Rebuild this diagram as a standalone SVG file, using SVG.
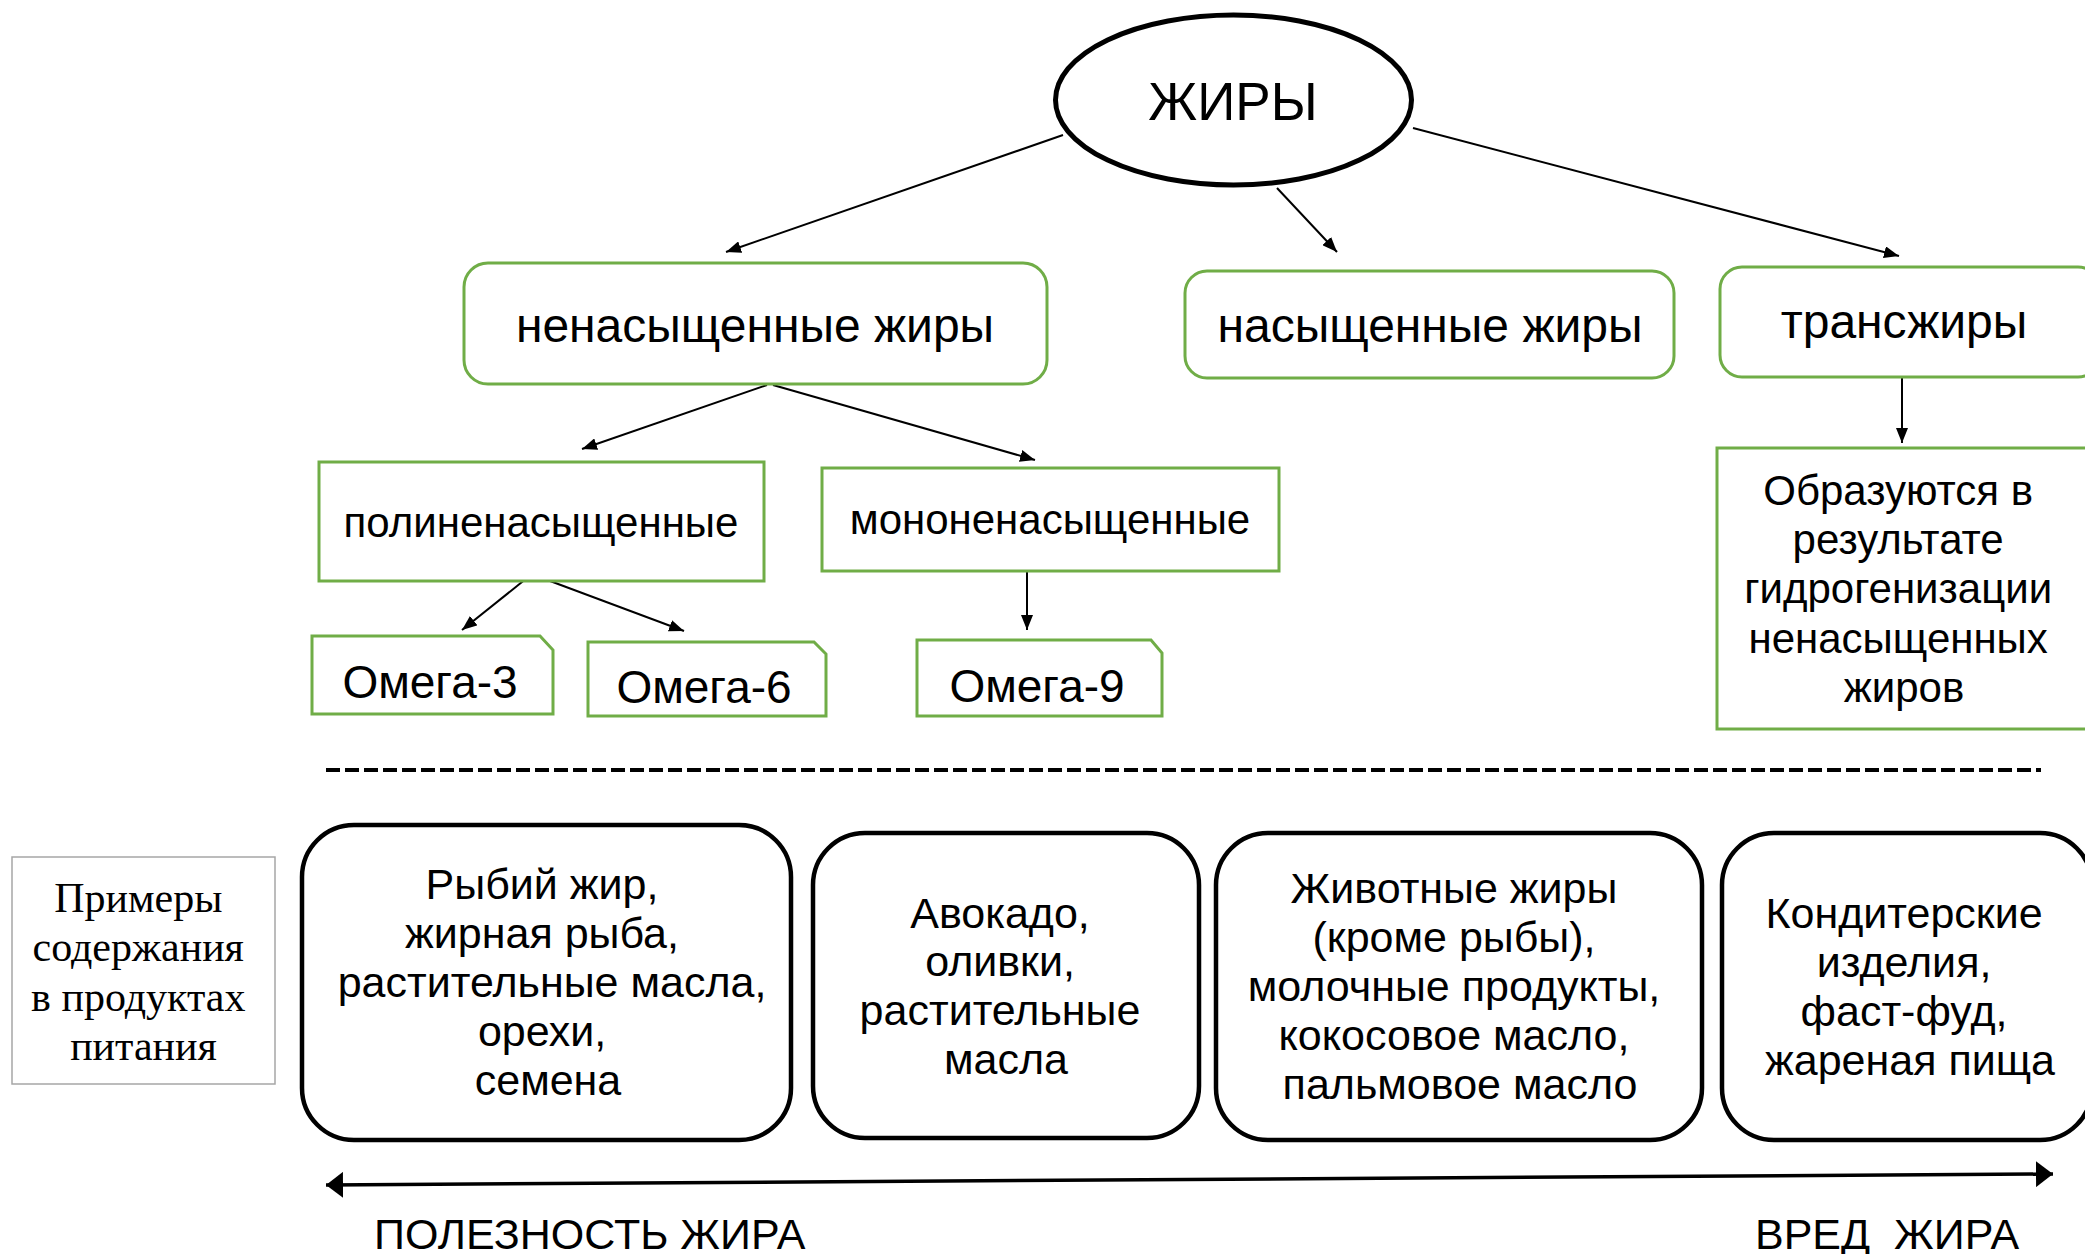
<svg xmlns="http://www.w3.org/2000/svg" width="2085" height="1254" viewBox="0 0 2085 1254">
<defs>
<style>
.t{font-family:"Liberation Sans",Arial,sans-serif;fill:#000;text-anchor:middle}
.g{fill:#fff;stroke:#70AD47;stroke-width:3}
.b{fill:#fff;stroke:#000;stroke-width:4.5}
.c{stroke:#000;stroke-width:2;fill:none}
.s{font-family:"Liberation Serif","Times New Roman",serif;fill:#000;text-anchor:middle}
</style>
<marker id="ah" markerUnits="userSpaceOnUse" markerWidth="16" markerHeight="12" refX="15" refY="6" orient="auto">
<path d="M0,0 L15,6 L0,12 z" fill="#000"/>
</marker>
<marker id="bh" markerUnits="userSpaceOnUse" markerWidth="18" markerHeight="26" refX="17" refY="13" orient="auto-start-reverse">
<path d="M0,0 L17,13 L0,26 z" fill="#000"/>
</marker>
</defs>
<rect width="2085" height="1254" fill="#fff"/>

<g id="connectors">
<line class="c" x1="1063" y1="135" x2="726" y2="252" marker-end="url(#ah)"/>
<line class="c" x1="1277" y1="188" x2="1337" y2="252" marker-end="url(#ah)"/>
<line class="c" x1="1413" y1="128" x2="1899" y2="256" marker-end="url(#ah)"/>
<line class="c" x1="767" y1="385" x2="582" y2="449" marker-end="url(#ah)"/>
<line class="c" x1="773" y1="385" x2="1035" y2="460" marker-end="url(#ah)"/>
<line class="c" x1="527" y1="578" x2="462" y2="630" marker-end="url(#ah)"/>
<line class="c" x1="542" y1="578" x2="684" y2="631" marker-end="url(#ah)"/>
<line class="c" x1="1027" y1="566" x2="1027" y2="630" marker-end="url(#ah)"/>
<line class="c" x1="1902" y1="377" x2="1902" y2="443" marker-end="url(#ah)"/>
<line x1="326" y1="770" x2="2041" y2="770" stroke="#000" stroke-width="4" stroke-dasharray="14 5"/>
<line x1="326" y1="1185" x2="2053" y2="1174" stroke="#000" stroke-width="3.5" marker-start="url(#bh)" marker-end="url(#bh)"/>
</g>

<g id="fats">
<ellipse cx="1233.5" cy="100" rx="178" ry="85" fill="#fff" stroke="#000" stroke-width="5"/>
<text class="t" x="1233" y="120" font-size="53">ЖИРЫ</text>
</g>

<g id="unsaturated">
<rect class="g" x="464" y="263" width="583" height="121" rx="24"/>
<text class="t" x="755" y="342" font-size="48">ненасыщенные жиры</text>
</g>

<g id="saturated">
<rect class="g" x="1185" y="271" width="489" height="107" rx="22"/>
<text class="t" x="1430" y="342" font-size="48">насыщенные жиры</text>
</g>

<g id="trans">
<rect class="g" x="1720" y="267" width="380" height="110" rx="22"/>
<text class="t" x="1904" y="338" font-size="48">трансжиры</text>
</g>

<g id="trans-note">
<rect class="g" x="1717" y="448" width="380" height="281"/>
<text class="t" font-size="42">
<tspan x="1904" y="505">Образуются в</tspan>
<tspan x="1904" y="554">результате</tspan>
<tspan x="1904" y="603">гидрогенизации</tspan>
<tspan x="1904" y="653">ненасыщенных</tspan>
<tspan x="1904" y="702">жиров</tspan>
</text>
</g>

<g id="poly">
<rect class="g" x="319" y="462" width="445" height="119"/>
<text class="t" x="541" y="537" font-size="42">полиненасыщенные</text>
</g>

<g id="mono">
<rect class="g" x="822" y="468" width="457" height="103"/>
<text class="t" x="1050" y="534" font-size="42">мононенасыщенные</text>
</g>

<g id="omega3">
<path class="g" d="M312,636 H540 L553,650 V714 H312 Z"/>
<text class="t" x="430" y="698" font-size="46">Омега-3</text>
</g>

<g id="omega6">
<path class="g" d="M588,642 H814 L826,654 V716 H588 Z"/>
<text class="t" x="704" y="703" font-size="46">Омега-6</text>
</g>

<g id="omega9">
<path class="g" d="M917,640 H1151 L1162,653 V716 H917 Z"/>
<text class="t" x="1037" y="702" font-size="46">Омега-9</text>
</g>

<g id="examples-label">
<rect x="12" y="857" width="263" height="227" fill="#fff" stroke="#A6A6A6" stroke-width="1.5"/>
<text class="s" font-size="42">
<tspan x="143.5" y="912">Примеры</tspan>
<tspan x="143.5" y="961">содержания</tspan>
<tspan x="143.5" y="1011">в продуктах</tspan>
<tspan x="143.5" y="1060">питания</tspan>
</text>
</g>

<g id="food-poly">
<rect class="b" x="302" y="825" width="489" height="315" rx="52"/>
<text class="t" font-size="43">
<tspan x="548" y="899">Рыбий жир,</tspan>
<tspan x="548" y="948">жирная рыба,</tspan>
<tspan x="558" y="997">растительные масла,</tspan>
<tspan x="548" y="1046">орехи,</tspan>
<tspan x="548" y="1095">семена</tspan>
</text>
</g>

<g id="food-mono">
<rect class="b" x="813" y="833" width="386" height="305" rx="52"/>
<text class="t" font-size="43">
<tspan x="1006" y="928">Авокадо,</tspan>
<tspan x="1006" y="976">оливки,</tspan>
<tspan x="1006" y="1025">растительные</tspan>
<tspan x="1006" y="1074">масла</tspan>
</text>
</g>

<g id="food-saturated">
<rect class="b" x="1216" y="833" width="486" height="307" rx="52"/>
<text class="t" font-size="43">
<tspan x="1460" y="903">Животные жиры</tspan>
<tspan x="1460" y="952">(кроме рыбы),</tspan>
<tspan x="1460" y="1001">молочные продукты,</tspan>
<tspan x="1460" y="1050">кокосовое масло,</tspan>
<tspan x="1460" y="1099">пальмовое масло</tspan>
</text>
</g>

<g id="food-trans">
<rect class="b" x="1722" y="833" width="370" height="307" rx="52"/>
<text class="t" font-size="43">
<tspan x="1910" y="928">Кондитерские</tspan>
<tspan x="1910" y="977">изделия,</tspan>
<tspan x="1910" y="1026">фаст-фуд,</tspan>
<tspan x="1910" y="1075">жареная пища</tspan>
</text>
</g>

<g id="scale-labels">
<text class="t" x="374" y="1249" font-size="43" style="text-anchor:start">ПОЛЕЗНОСТЬ ЖИРА</text>
<text class="t" x="1755" y="1249" font-size="43" style="text-anchor:start" xml:space="preserve">ВРЕД  ЖИРА</text>
</g>
</svg>
